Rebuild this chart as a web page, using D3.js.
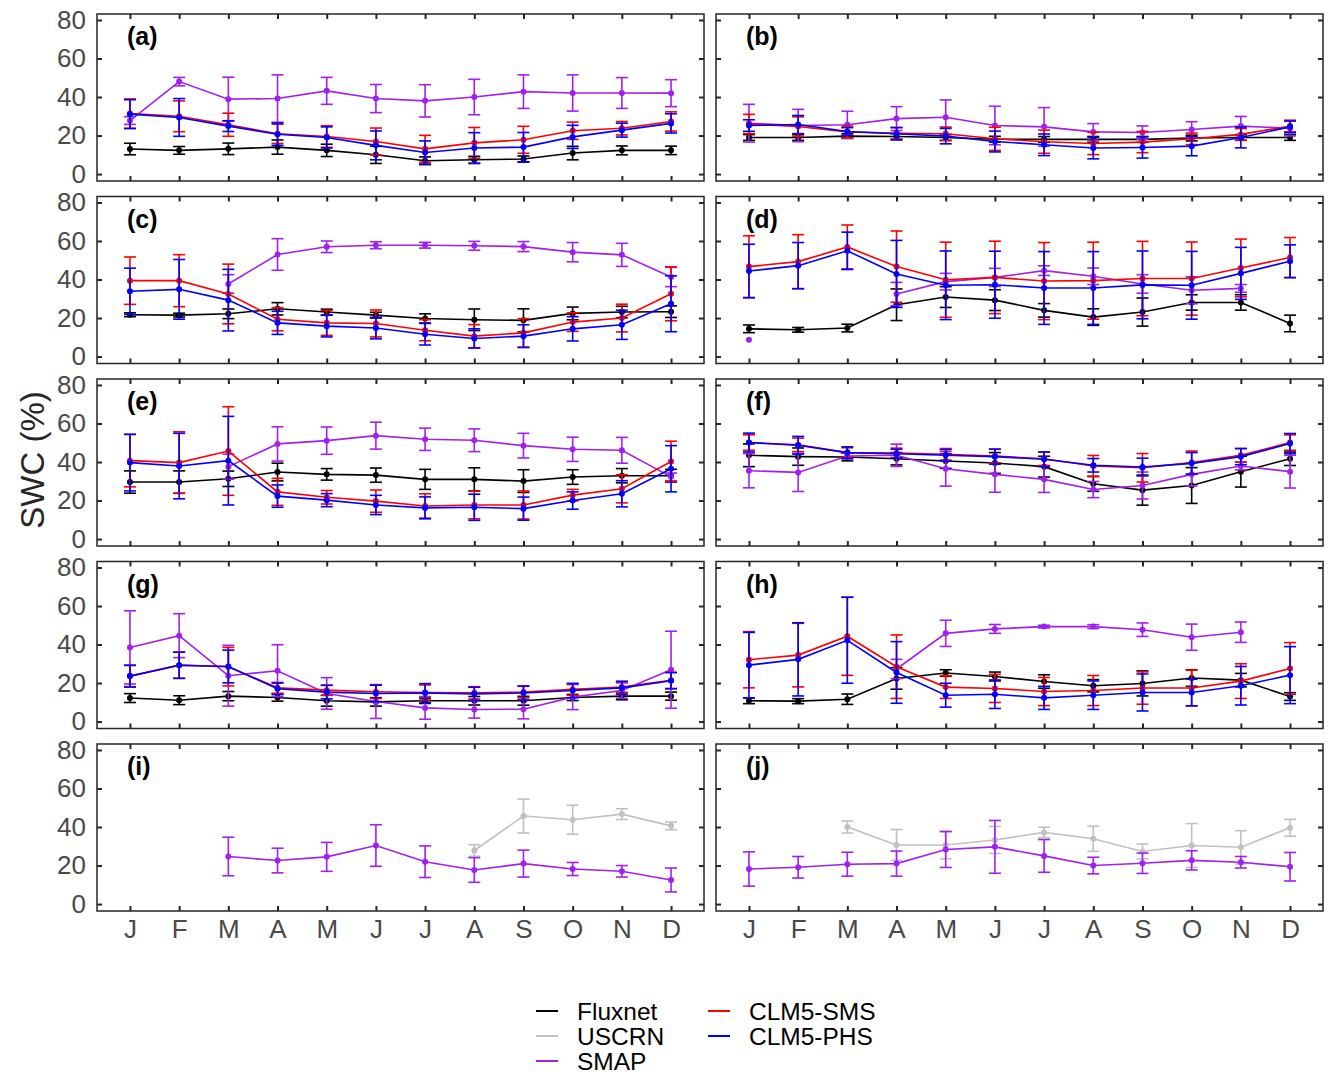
<!DOCTYPE html>
<html>
<head>
<meta charset="utf-8">
<script src="https://cdn.jsdelivr.net/npm/d3@7"></script>
<style>
  body { margin: 0; background: #fff; }
  text { font-family: "Liberation Sans", Arial, sans-serif; }
</style>
</head>
<body>
<svg width="1328" height="1076"></svg>
<script>
var N = null;
var months = ["J","F","M","A","M","J","J","A","S","O","N","D"];
var panelLabels = ["(a)","(b)","(c)","(d)","(e)","(f)","(g)","(h)","(i)","(j)"];
var yTicks = [0, 20, 40, 60, 80];
var seriesNames = ["Fluxnet", "USCRN", "SMAP", "CLM5-SMS", "CLM5-PHS"];
var seriesColors = ["#000000", "#c0c0c0", "#a020f0", "#ff0000", "#0000ff"];
var empty = [N,N,N,N,N,N,N,N,N,N,N,N];

// one row per panel (a..j), one value per month
var fluxnetMean = [
  [13, 12.3, 13.1, 14, 12.3, 10, 6.9, 7.4, 7.8, 10.9, 12.3, 12.3],
  [19, 19, 19.7, 19.5, 19, 18.1, 18, 18, 18, 18.7, 19, 19],
  [21.7, 21.5, 22.2, 24.8, 23.1, 21.5, 19.8, 19.1, 18.8, 22.4, 23.1, 23.3],
  [14.4, 13.9, 14.8, 26.9, 30.9, 29.3, 24, 20.5, 23.1, 28.1, 28.1, 17.2],
  [29.6, 29.6, 31.3, 34.8, 33.6, 33.2, 31, 31, 30.1, 32.2, 32.9, 32.9],
  [43.5, 42.8, 42.6, 41.7, 40.5, 39.5, 37.6, 28.7, 25.4, 27.8, 35, 41.7],
  [12.2, 11.1, 13.2, 12.5, 10.8, 10.2, 10.8, 10.8, 10.8, 12.5, 13.2, 13.2],
  [10.8, 10.6, 11.6, 22.4, 25.2, 23.4, 20.8, 18.6, 19.8, 22.6, 21.5, 13],
  empty, empty
];
var fluxnetErr = [
  [3, 2, 3, 3.7, 3.2, 4.5, 2, 1.8, 1.6, 3.5, 2.3, 2.2],
  [1.5, 1.5, 1.2, 1.5, 1.5, 1.5, 1.5, 1.5, 1.5, 1.5, 1.5, 1.5],
  [1, 1, 2.5, 3.2, 1.5, 1.5, 2.4, 5.6, 6, 3.3, 3, 3],
  [2, 1.2, 2, 8.2, 5.4, 5.4, 3.5, 4.3, 7.3, 4, 4, 4.3],
  [5.8, 5.8, 4, 4.6, 3, 3.7, 5.2, 6, 5.9, 3.8, 3.7, 3.3],
  [5.9, 4.5, 2, 3.2, 3.8, 5.4, 5.4, 3.9, 7.8, 9.3, 8, 3.5],
  [2.3, 2.3, 2.4, 1.9, 2.8, 2.2, 1.4, 2.2, 2.3, 1.6, 1.9, 2.1],
  [1.5, 1.3, 2.7, 5.6, 1.7, 2.3, 3.5, 3.2, 6.5, 4.3, 3.5, 2],
  empty, empty
];
var uscrnMean = [
  empty, empty, empty, empty, empty, empty, empty, empty,
  [N, N, N, N, N, N, N, 27.8, 45.7, 43.8, 46.7, 40.6],
  [N, N, 40, 30.7, 30.7, 33.3, 37.2, 33.9, 27.3, 30.4, 29.5, 39.6]
];
var uscrnErr = [
  empty, empty, empty, empty, empty, empty, empty, empty,
  [N, N, N, N, N, N, N, 3, 8.8, 7.5, 2.8, 2],
  [N, N, 3.1, 8, 7.2, 7, 2.7, 6.5, 3.9, 11.4, 8.6, 4.4]
];
var smapMean = [
  [27.8, 48, 38.9, 39.2, 43.2, 39.2, 38, 40, 42.8, 42.1, 42.1, 42],
  [26.4, 25.2, 25.6, 28.8, 29.5, 25.2, 24.5, 21.9, 21.6, 23.1, 24.9, 23.8],
  [N, N, 37.7, 53, 57, 57.8, 57.8, 57.5, 57.1, 54.2, 52.8, 41.3],
  [8.7, N, N, 32.5, 38.9, 41.1, 44.6, 41.7, 37.7, 34.4, 35.4, N],
  [N, N, 37.6, 49.4, 51.1, 53.7, 51.8, 51.3, 48.5, 46.6, 46.1, 32.3],
  [35.5, 34.6, 43.1, 43.5, 36.5, 33.6, 31, 25.7, 27.8, 33.6, 37.9, 35],
  [38.5, 44.6, 23.8, 26.4, 14.6, 10.4, 7.1, 6.3, 6.4, 12.7, 16.1, 26.9],
  [N, N, N, 27.3, 45.8, 48.1, 49.3, 49.3, 47.7, 43.8, 46.4, N],
  [N, N, 24.7, 22.6, 24.5, 30.4, 22, 17.7, 21, 18.2, 17, 12.5],
  [18.2, 19.1, 20.7, 21, 28.3, 29.7, 25, 20, 21.2, 22.7, 21.7, 19.4]
];
var smapErr = [
  [2, 2.2, 11.4, 12.3, 7, 7.3, 8.4, 9.2, 8.7, 9.4, 8, 7],
  [9.8, 8.4, 7, 6.2, 9, 10, 10, 4.3, 3.4, 4.1, 5, 4],
  [N, N, 4.8, 8.2, 3, 1.8, 1.5, 2.3, 2.6, 5, 6, 5],
  [0, N, N, 6, 4.3, 4.7, 2.5, 4.3, 4.8, 7, 2, N],
  [N, N, 6.5, 8.9, 7.1, 7, 5.8, 5.9, 6.4, 6.3, 6.7, 2],
  [8.9, 9.9, 1.5, 5.8, 9, 9.3, 6.8, 4.2, 7, 6, 2, 8.5],
  [19, 11.4, 15.8, 13.5, 8.2, 8.8, 5.9, 4.5, 5, 6.5, 4, 20],
  [N, N, N, 5, 6.8, 2.3, 0.7, 1, 3.5, 6.8, 5.3, N],
  [N, N, 10, 6.4, 7.5, 10.8, 8.2, 6.4, 7, 3.4, 3, 6.2],
  [8.9, 5.6, 6.2, 6.5, 9.3, 13.7, 8.5, 4.3, 5.3, 5, 3, 7.4]
];
var smsMean = [
  [31.4, 30, 25.6, 20.9, 19.5, 16.9, 13.1, 16.2, 17.8, 22.5, 23.8, 27.3],
  [26, 24.7, 21.9, 21.2, 20.9, 18.3, 16.8, 15.9, 16.6, 18.3, 20.6, 24.9],
  [39.4, 39.4, 32.5, 19.4, 17.5, 17.2, 13.7, 10.6, 12.3, 17.9, 20, 32.6],
  [46.7, 49.3, 56.9, 46.7, 39.9, 41.1, 39.2, 39.4, 40.5, 40.5, 46, 51.4],
  [40.7, 39.7, 45.7, 24.5, 21.7, 19.7, 17.2, 17.7, 17.7, 22.8, 26.1, 40.3],
  [50.1, 48.9, 44.9, 44.7, 44, 43.1, 41.7, 37.9, 37, 39.7, 43.5, 50.1],
  [23.6, 29.3, 28.5, 17.5, 16.3, 15.5, 15.1, 14.9, 15.3, 16.7, 17.9, 21.4],
  [32.1, 34.5, 44.3, 28.5, 17.9, 17.2, 15.6, 16.1, 17.4, 17.4, 21, 27.6],
  empty, empty
];
var smsErr = [
  [7.6, 8, 6, 5, 5.6, 7, 7, 8, 7, 4.5, 3.5, 5],
  [5, 5, 3, 3, 3.5, 6, 6, 5.8, 5.5, 3, 3, 3],
  [12.3, 13.5, 15.5, 6, 6.5, 7, 5.5, 6, 7.4, 4.8, 7.2, 14],
  [16, 14, 11.4, 18.5, 19.5, 18.8, 20, 20, 19.3, 19, 15, 10.4],
  [13.6, 16, 23, 7, 3.5, 5.8, 6.3, 7.2, 7.3, 3, 7.3, 10.5],
  [4, 3.5, 2.5, 2.5, 3, 3.5, 3.5, 5.5, 7.4, 6, 3.5, 4],
  [5.5, 6.8, 10, 2.8, 2.6, 3.5, 3.9, 3.2, 3, 3, 3, 4.2],
  [14.6, 16.5, 20.3, 16.5, 5.9, 7.3, 7.3, 7.8, 8.4, 9.3, 9, 13.4],
  empty, empty
];
var phsMean = [
  [31.1, 29.4, 24.9, 20.7, 19, 14.9, 11.2, 13.5, 14, 19.3, 22.8, 26.3],
  [25.2, 25.7, 22.1, 20.9, 19.7, 16.9, 15.2, 13.5, 13.8, 14.5, 19, 24.5],
  [33.9, 34.9, 29.3, 17.5, 15.8, 14.8, 11.6, 9.4, 10.6, 14.4, 16.5, 27.4],
  [44.4, 47.2, 54.9, 42.9, 37, 37.3, 35.6, 35.6, 37.2, 37, 43.2, 49.5],
  [39.7, 37.9, 40.7, 22.3, 20.2, 17.7, 16.2, 16.5, 15.8, 20, 23.5, 36.5],
  [50.1, 48.7, 44.9, 44.3, 43.5, 42.8, 41.4, 38.3, 37.4, 39.3, 42.8, 49.6],
  [23.6, 29.2, 28.6, 17, 15.3, 14.6, 14.8, 14.4, 14.8, 16.1, 17.5, 21.2],
  [29.3, 32.3, 42.2, 25.5, 13.7, 14.2, 12.3, 13.7, 15.1, 15.1, 18.6, 24.1],
  empty, empty
];
var phsErr = [
  [7.5, 9.8, 2.8, 5.8, 5.5, 7.5, 6, 8, 7.6, 6, 3.6, 5],
  [3, 4.7, 2, 3.2, 4, 5.4, 5.6, 5.6, 5.5, 5, 5.4, 3],
  [12, 15.5, 16, 6, 5.6, 5.6, 5.6, 5, 5.9, 6.3, 7.6, 14.5],
  [13.9, 12, 9.7, 17.4, 17.8, 17.4, 18.9, 18.9, 17.6, 17.6, 13.5, 8.5],
  [14.7, 17, 23, 5.8, 3.4, 5, 5.7, 6.8, 6, 4.5, 6.8, 12],
  [4.9, 4.6, 3, 2.3, 3, 3.9, 3.8, 3.5, 4.6, 5.6, 4.2, 5.2],
  [5.7, 6.8, 8.5, 3, 3.5, 4.3, 4.9, 3.4, 3.7, 3.7, 3.3, 4.2],
  [17, 19, 22.3, 16, 6.2, 7.4, 6, 7.4, 9.6, 6.9, 10, 14.8],
  empty, empty
];

var allMeans = [fluxnetMean, uscrnMean, smapMean, smsMean, phsMean];
var allErrs = [fluxnetErr, uscrnErr, smapErr, smsErr, phsErr];

var svg = d3.select("svg");
var colLeft = [97, 716], panelW = 607, panelH = 167;
var rowTop = [14, 196.5, 379, 561.5, 744];
var monthIdx = d3.range(1, 13);

panelLabels.forEach(function(lab, p) {
  var col = p % 2, row = Math.floor(p / 2);
  var left = colLeft[col], top = rowTop[row];
  var x = d3.scaleLinear().domain([0.33, 12.67]).range([left, left + panelW]);
  var y = d3.scaleLinear().domain([-3.6, 83.1]).range([top + panelH, top]);
  var g = svg.append("g");

  // inside ticks on all four sides
  g.append("g").attr("transform", "translate(" + left + ",0)")
    .call(d3.axisLeft(y).tickValues(yTicks).tickSizeInner(-5).tickSizeOuter(0).tickPadding(11)
      .tickFormat(col == 0 ? d3.format("d") : function() { return ""; }));
  g.append("g").attr("transform", "translate(" + (left + panelW) + ",0)")
    .call(d3.axisRight(y).tickValues(yTicks).tickSizeInner(-5).tickSizeOuter(0).tickFormat(""));
  g.append("g").attr("transform", "translate(0," + (top + panelH) + ")")
    .call(d3.axisBottom(x).tickValues(monthIdx).tickSizeInner(-5).tickSizeOuter(0).tickPadding(9)
      .tickFormat(row == 4 ? function(d) { return months[d - 1]; } : function() { return ""; }));
  g.append("g").attr("transform", "translate(0," + top + ")")
    .call(d3.axisTop(x).tickValues(monthIdx).tickSizeInner(-5).tickSizeOuter(0).tickFormat(""));
  g.selectAll(".domain").remove();
  g.selectAll(".tick line").attr("stroke", "#262626").attr("stroke-width", 2);
  g.selectAll(".tick text").attr("fill", "#4a4a4a").style("font-size", "26px")
    .style("font-family", "'Liberation Sans', Arial, sans-serif");

  g.append("rect")
    .attr("x", left).attr("y", top).attr("width", panelW).attr("height", panelH)
    .attr("fill", "none").attr("stroke", "#262626").attr("stroke-width", 1.5);

  g.append("text")
    .attr("x", left + 30).attr("y", top + 31)
    .style("font-size", "25px").style("font-weight", "bold")
    .text(lab);

  allMeans.forEach(function(meanSet, s) {
    var vals = meanSet[p], errs = allErrs[s][p], color = seriesColors[s];
    var pts = monthIdx.map(function(m, i) { return { m: m, v: vals[i], e: errs[i] || 0 }; })
      .filter(function(d) { return d.v != null; });
    if (!pts.length) return;
    var sg = g.append("g");

    var bars = sg.selectAll("g.eb").data(pts).enter().append("g").attr("class", "eb")
      .attr("stroke", color).attr("stroke-width", 1.6).filter(function(d) { return d.e > 0; });
    bars.append("line")
      .attr("x1", function(d) { return x(d.m); }).attr("x2", function(d) { return x(d.m); })
      .attr("y1", function(d) { return y(d.v - d.e); }).attr("y2", function(d) { return y(d.v + d.e); });
    [-1, 1].forEach(function(sign) {
      bars.append("line")
        .attr("x1", function(d) { return x(d.m) - 6; }).attr("x2", function(d) { return x(d.m) + 6; })
        .attr("y1", function(d) { return y(d.v + sign * d.e); }).attr("y2", function(d) { return y(d.v + sign * d.e); });
    });

    var line = d3.line()
      .defined(function(d) { return d != null; })
      .x(function(d, i) { return x(i + 1); })
      .y(function(d) { return y(d); });
    sg.append("path").datum(vals)
      .attr("d", line).attr("fill", "none")
      .attr("stroke", color).attr("stroke-width", 1.6);

    sg.selectAll("circle").data(pts).enter().append("circle")
      .attr("cx", function(d) { return x(d.m); })
      .attr("cy", function(d) { return y(d.v); })
      .attr("r", 3).attr("fill", color);
  });
});

// y axis title
svg.append("text")
  .attr("transform", "translate(44,460) rotate(-90)")
  .attr("text-anchor", "middle")
  .style("font-size", "33px").attr("fill", "#262626")
  .text("SWC (%)");

// legend
var legendPos = [[536, 1011], [536, 1036], [536, 1061], [708, 1011], [708, 1036]];
seriesNames.forEach(function(name, i) {
  var lx = legendPos[i][0], ly = legendPos[i][1];
  svg.append("line")
    .attr("x1", lx).attr("x2", lx + 22).attr("y1", ly).attr("y2", ly)
    .attr("stroke", seriesColors[i]).attr("stroke-width", 2);
  svg.append("text")
    .attr("x", lx + 41).attr("y", ly).attr("dy", "0.35em")
    .style("font-size", "24.5px").attr("fill", "#000")
    .text(name);
});
</script>
</body>
</html>
